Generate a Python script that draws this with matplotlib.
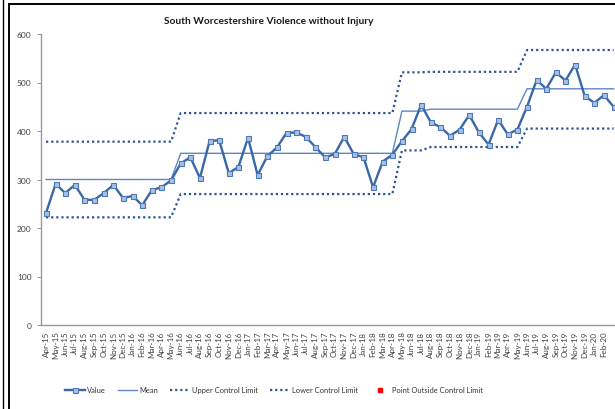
import matplotlib
matplotlib.use("Agg")
import matplotlib.pyplot as plt
from matplotlib.lines import Line2D
from matplotlib.patches import Rectangle
import numpy as np

months = ["Apr-15","May-15","Jun-15","Jul-15","Aug-15","Sep-15","Oct-15","Nov-15","Dec-15",
          "Jan-16","Feb-16","Mar-16","Apr-16","May-16","Jun-16","Jul-16","Aug-16","Sep-16","Oct-16","Nov-16","Dec-16",
          "Jan-17","Feb-17","Mar-17","Apr-17","May-17","Jun-17","Jul-17","Aug-17","Sep-17","Oct-17","Nov-17","Dec-17",
          "Jan-18","Feb-18","Mar-18","Apr-18","May-18","Jun-18","Jul-18","Aug-18","Sep-18","Oct-18","Nov-18","Dec-18",
          "Jan-19","Feb-19","Mar-19","Apr-19","May-19","Jun-19","Jul-19","Aug-19","Sep-19","Oct-19","Nov-19","Dec-19",
          "Jan-20","Feb-20","Mar-20"]

values = [231, 291, 272, 289, 258, 258, 272, 289, 262, 266, 247, 278, 284, 298,
          333, 346, 303, 379, 381, 313, 326, 386, 309, 348, 366, 396, 397, 388, 367, 346,
          352, 388, 352, 346, 284, 337, 351,
          379, 404, 454, 418, 408, 390, 403, 433, 397, 372, 423, 393, 403,
          450, 505, 487, 521, 504, 537, 472, 458, 474, 450]

mean = [300]*14 + [354]*23 + [441]*3 + [445]*10 + [487]*10
ucl  = [378]*14 + [437]*23 + [521]*3 + [522]*10 + [567]*10
lcl  = [222]*14 + [270]*23 + [360]*3 + [367]*10 + [405]*10

outside_idx = []
outside_val = []

W, H = 615, 410
fig = plt.figure(figsize=(W/100, H/100), dpi=100)
plt.rcParams['font.family'] = ['Lato', 'DejaVu Sans']

N = len(months)
x = np.arange(N)
left_px, right_px = 41.2, 41.2 + N*9.62
ax = fig.add_axes([left_px/W, (H-326)/H, (right_px-left_px)/W, 291/H])

dark = '#3A67A5'
lightb = '#5B87C5'
dotc = '#2F5590'

l_ucl, = ax.plot(x, ucl, linestyle=(0, (1, 1.3)), color=dotc, lw=1.6, label='Upper Control Limit')
l_lcl, = ax.plot(x, lcl, linestyle=(0, (1, 1.3)), color=dotc, lw=1.6, label='Lower Control Limit')
l_mean, = ax.plot(x, mean, color=lightb, lw=1.0, label='Mean')
l_val, = ax.plot(x, values, color=dark, lw=1.7, marker='s', markersize=3.6,
                 markerfacecolor='#A9C0E2', markeredgecolor='#4A78B8', markeredgewidth=0.8, label='Value')
l_out, = ax.plot(outside_idx, outside_val, linestyle='none', marker='s', markersize=2.5,
                 color='#FF0000', label='Point Outside Control Limit')

ax.set_xlim(-0.5, N-0.5)
ax.set_ylim(0, 600)
ax.set_yticks(range(0, 601, 100))
ax.set_xticks(x)
# the last month's label falls outside the visible (cropped) picture
shown_labels = months[:-1] + ['']
ax.set_xticklabels(shown_labels, rotation=90, fontsize=5.8, color='#404040')
ax.tick_params(axis='y', labelsize=6, colors='#404040', length=3, width=0.6, color='#868686', pad=4)
ax.tick_params(axis='x', length=0, pad=4)
for s in ['top', 'right']:
    ax.spines[s].set_visible(False)
for s in ['left', 'bottom']:
    ax.spines[s].set_color('#9A9A9A')
    ax.spines[s].set_linewidth(1.0)

fig.text(269/W, 1-22/H, 'South Worcestershire Violence without Injury', ha='center', va='center',
         fontsize=7.3, fontweight='bold', color='#1a1a1a')

leg = fig.legend(handles=[l_val, l_mean, l_ucl, l_lcl, l_out], loc='center', ncol=5,
                 bbox_to_anchor=(274/W, 1-391/H), frameon=False, fontsize=5.4,
                 handlelength=2.6, handletextpad=0.35, columnspacing=1.55, labelcolor='#333333')

# chart frame
fig.add_artist(Line2D([3/W, 3/W], [0, 1], color='black', lw=1.0))
fig.add_artist(Rectangle((9/W, -0.1), 1.2, 1.1 - 5/H, transform=fig.transFigure,
                         fill=False, edgecolor='black', lw=1.4))

fig.savefig('out.png', dpi=100)
